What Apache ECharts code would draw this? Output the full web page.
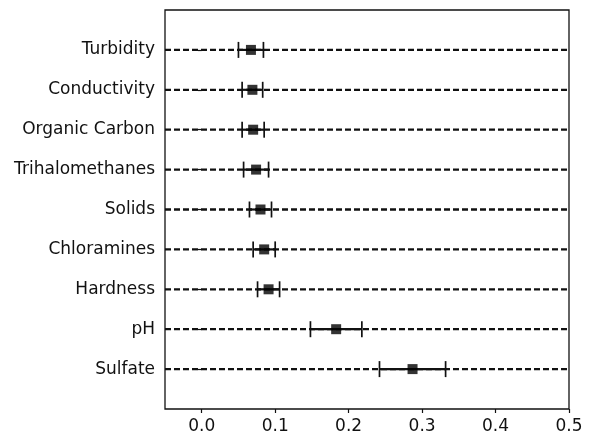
<!DOCTYPE html>
<html>
<head>
<meta charset="utf-8">
<script src="https://cdn.jsdelivr.net/npm/echarts@6/dist/echarts.min.js"></script>
<style>
  html, body { margin: 0; padding: 0; background: #fff; }
  #chart { width: 589px; height: 439px; }
</style>
</head>
<body>
<div id="chart"></div>
<script>
// features from bottom to top
const features = ['Sulfate', 'pH', 'Hardness', 'Chloramines', 'Solids', 'Trihalomethanes', 'Organic Carbon', 'Conductivity', 'Turbidity'];
const importance = [0.287, 0.183, 0.091, 0.085, 0.080, 0.074, 0.070, 0.069, 0.067];
const errors = [0.045, 0.035, 0.015, 0.015, 0.015, 0.017, 0.015, 0.014, 0.017];
const xTicks = [0.0, 0.1, 0.2, 0.3, 0.4, 0.5];

// empty slots at both ends give the half-row margins
const cats = [''].concat(features, ['']);

const chart = echarts.init(document.getElementById('chart'));
const font = 'DejaVu Sans';

const dashData = features.map(f => [0, f]);
const errData = features.map((f, i) => [importance[i] - errors[i], importance[i] + errors[i], f]);
const pointData = features.map((f, i) => [importance[i], f]);

const option = {
  animation: false,
  grid: {
    left: 165, right: 20, top: 10, bottom: 30,
    show: true, borderColor: '#111', borderWidth: 1.3, backgroundColor: 'transparent'
  },
  xAxis: {
    type: 'value',
    min: -0.05,
    max: 0.5,
    splitLine: { show: false },
    axisLine: { show: false },
    axisTick: { show: true, length: 4, lineStyle: { color: '#111', width: 1.2 }, customValues: xTicks },
    axisLabel: {
      customValues: xTicks,
      formatter: v => v.toFixed(1),
      fontFamily: font, fontSize: 17, color: '#111', margin: 9
    }
  },
  yAxis: {
    type: 'category',
    data: cats,
    boundaryGap: false,
    axisLine: { show: false },
    splitLine: { show: false },
    axisTick: {
      show: true, length: 4, lineStyle: { color: '#111', width: 1.2 },
      interval: (idx, val) => val !== ''
    },
    axisLabel: { interval: 0, fontFamily: font, fontSize: 17, color: '#111', margin: 10 }
  },
  series: [
    {
      // dashed guide line for each feature
      type: 'custom',
      data: dashData,
      encode: { x: 0, y: 1 },
      renderItem: (params, api) => {
        const p = api.coord([0, api.value(1)]);
        const cs = params.coordSys;
        return {
          type: 'line',
          shape: { x1: cs.x, y1: p[1], x2: cs.x + cs.width, y2: p[1] },
          style: { stroke: '#111', lineWidth: 2.3, lineDash: [6, 3] }
        };
      },
      z: 1
    },
    {
      // error bars
      type: 'custom',
      data: errData,
      encode: { x: [0, 1], y: 2 },
      renderItem: (params, api) => {
        const a = api.coord([api.value(0), api.value(2)]);
        const b = api.coord([api.value(1), api.value(2)]);
        const h = 8;
        const st = { stroke: '#111', lineWidth: 1.7 };
        return {
          type: 'group',
          children: [
            { type: 'line', shape: { x1: a[0], y1: a[1], x2: b[0], y2: b[1] }, style: Object.assign({}, st, { lineWidth: 2.2 }) },
            { type: 'line', shape: { x1: a[0], y1: a[1] - h, x2: a[0], y2: a[1] + h }, style: st },
            { type: 'line', shape: { x1: b[0], y1: b[1] - h, x2: b[0], y2: b[1] + h }, style: st }
          ]
        };
      },
      z: 2
    },
    {
      type: 'scatter',
      data: pointData,
      symbol: 'rect',
      symbolSize: 10,
      itemStyle: { color: '#000' },
      z: 3
    }
  ]
};
chart.setOption(option);
</script>
</body>
</html>
